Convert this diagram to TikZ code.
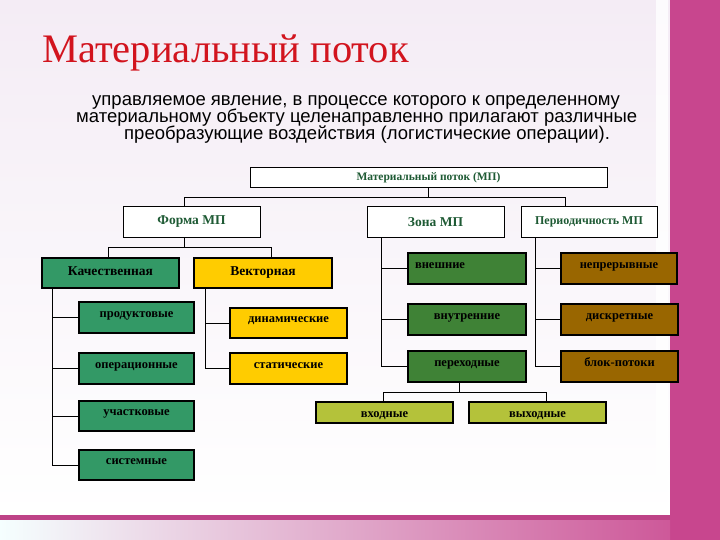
\documentclass[tikz,border=0pt]{standalone}
\usepackage{fontspec}
\setmainfont{Liberation Serif}
\newfontfamily\subfont{Liberation Sans}
\usetikzlibrary{positioning}

\definecolor{titlered}{RGB}{210,20,30}
\definecolor{hdrgreen}{RGB}{30,90,52}
\definecolor{qualgreen}{RGB}{51,153,102}
\definecolor{vecgold}{RGB}{255,204,0}
\definecolor{zonegreen}{RGB}{63,130,54}
\definecolor{perbrown}{RGB}{153,102,0}
\definecolor{flowolive}{RGB}{180,194,58}
\definecolor{slidepink}{RGB}{200,70,142}
\definecolor{paneltop}{RGB}{244,236,245}

\begin{document}
\begin{tikzpicture}[x=1pt,y=-1pt,
  hdrbox/.style={draw,fill=white,line width=1pt,inner sep=0pt,text=hdrgreen,font=\bfseries\fontsize{13.5}{13.5}\selectfont},
  leafbox/.style={draw,line width=1.1pt,inner sep=0pt,text=black,text height=9pt,text depth=10pt,font=\bfseries\fontsize{12.5}{12.5}\selectfont},
  subline/.style={anchor=base west,inner sep=0pt,font=\subfont\fontsize{18.5}{18.5}\selectfont},
  link/.style={line width=0.9pt}]
\useasboundingbox (0,0) rectangle (720,540);
% slide background
\shade[top color=paneltop,bottom color=white] (0,0) rectangle (670,515);
\fill[white,opacity=0.8] (656,0) rectangle (668,515);
\fill[slidepink] (670,0) rectangle (720,540);
\fill[slidepink!95!black] (0,515) rectangle (670,520);
\shade[left color=cyan!4!white,right color=slidepink!90!white] (0,520) rectangle (670,540);

% title and definition
\node[anchor=base west,inner sep=0pt,text=titlered,font=\fontsize{40.5}{40.5}\selectfont] (title) at (42,63) {Материальный поток};
\node[subline] (sub1) at (92,106) {управляемое явление, в процессе которого к определенному};
\node[subline] (sub2) at (76,123) {материальному объекту целенаправленно прилагают различные};
\node[subline] (sub3) at (124,140) {преобразующие воздействия (логистические операции).};

% top levels
\node[hdrbox,minimum width=357pt,minimum height=20pt,font=\bfseries\fontsize{11.5}{11.5}\selectfont] (mp) at (428.5,178) {Материальный поток (МП)};
\node[hdrbox,minimum width=137pt,minimum height=30pt] (forma) at (191.5,222) {Форма МП};
\node[hdrbox,minimum width=137pt,minimum height=30pt] (zona) at (435.5,222) {Зона МП};
\node[hdrbox,minimum width=136pt,minimum height=30pt,font=\bfseries\fontsize{12}{12}\selectfont] (period) at (589,222) {Периодичность МП};

% form
\node[leafbox,fill=qualgreen,minimum width=137pt,minimum height=30pt,text depth=5pt,font=\bfseries\fontsize{13.5}{13.5}\selectfont] (kach) at (110.5,273) {Качественная};
\node[leafbox,fill=vecgold,minimum width=138pt,minimum height=30pt,text depth=5pt,font=\bfseries\fontsize{13.5}{13.5}\selectfont] (vekt) at (263,273) {Векторная};
\node[leafbox,fill=qualgreen,minimum width=115pt,minimum height=31pt] (prod) at (136.5,317.5) {продуктовые};
\node[leafbox,fill=qualgreen,minimum width=115pt,minimum height=31pt] (oper) at (136.5,368.5) {операционные};
\node[leafbox,fill=qualgreen,minimum width=115pt,minimum height=30pt] (uchast) at (136.5,416) {участковые};
\node[leafbox,fill=qualgreen,minimum width=115pt,minimum height=30pt] (sist) at (136.5,465) {системные};
\node[leafbox,fill=vecgold,minimum width=117pt,minimum height=30pt] (dinam) at (288.5,323) {динамические};
\node[leafbox,fill=vecgold,minimum width=117pt,minimum height=31pt] (stat) at (288.5,368.5) {статические};

% zone
\node[leafbox,fill=zonegreen,minimum width=118pt,minimum height=31pt,text width=104pt,align=left,inner xsep=7pt] (vnesh) at (467,268.5) {внешние};
\node[leafbox,fill=zonegreen,minimum width=118pt,minimum height=31pt] (vnutr) at (467,319.5) {внутренние};
\node[leafbox,fill=zonegreen,minimum width=118pt,minimum height=31pt] (perekh) at (467,366.5) {переходные};
\node[leafbox,fill=flowolive,minimum width=137pt,minimum height=21pt,text height=12pt,text depth=2pt] (vkhod) at (384.5,412.5) {входные};
\node[leafbox,fill=flowolive,minimum width=137pt,minimum height=21pt,text height=12pt,text depth=2pt] (vykhod) at (537.5,412.5) {выходные};

% periodicity
\node[leafbox,fill=perbrown,minimum width=116pt,minimum height=31pt] (nepr) at (619,268.5) {непрерывные};
\node[leafbox,fill=perbrown,minimum width=117pt,minimum height=31pt] (diskr) at (619.5,319.5) {дискретные};
\node[leafbox,fill=perbrown,minimum width=117pt,minimum height=31pt] (blok) at (619.5,366.5) {блок-потоки};

% connectors
\draw[link] (mp.south) -- ++(0,10);
\draw[link] ([xshift=-7.5pt]forma.north) |- ++(0,-9) -| ([xshift=-24pt]period.north);
\draw[link] ([xshift=-7.5pt]forma.south) -- ++(0,10) coordinate (fbus);
\draw[link] ([xshift=-2.5pt]kach.north) |- (fbus) -| ([xshift=8pt]vekt.north);
\draw[link] ([xshift=11pt]kach.south west) |- (prod.west);
\draw[link] ([xshift=11pt]kach.south west) |- (oper.west);
\draw[link] ([xshift=11pt]kach.south west) |- (uchast.west);
\draw[link] ([xshift=11pt]kach.south west) |- (sist.west);
\draw[link] ([xshift=12pt]vekt.south west) |- (dinam.west);
\draw[link] ([xshift=12pt]vekt.south west) |- (stat.west);
\draw[link] ([xshift=15pt]zona.south west) |- (vnesh.west);
\draw[link] ([xshift=15pt]zona.south west) |- (vnutr.west);
\draw[link] ([xshift=15pt]zona.south west) |- (perekh.west);
\draw[link] ([xshift=15pt]period.south west) |- (nepr.west);
\draw[link] ([xshift=15pt]period.south west) |- (diskr.west);
\draw[link] ([xshift=15pt]period.south west) |- (blok.west);
\draw[link] ([xshift=-8pt]perekh.south) -- ++(0,10) coordinate (pbus);
\draw[link] ([xshift=-1.5pt]vkhod.north) |- (pbus) -| ([xshift=8.5pt]vykhod.north);
\end{tikzpicture}
\end{document}
